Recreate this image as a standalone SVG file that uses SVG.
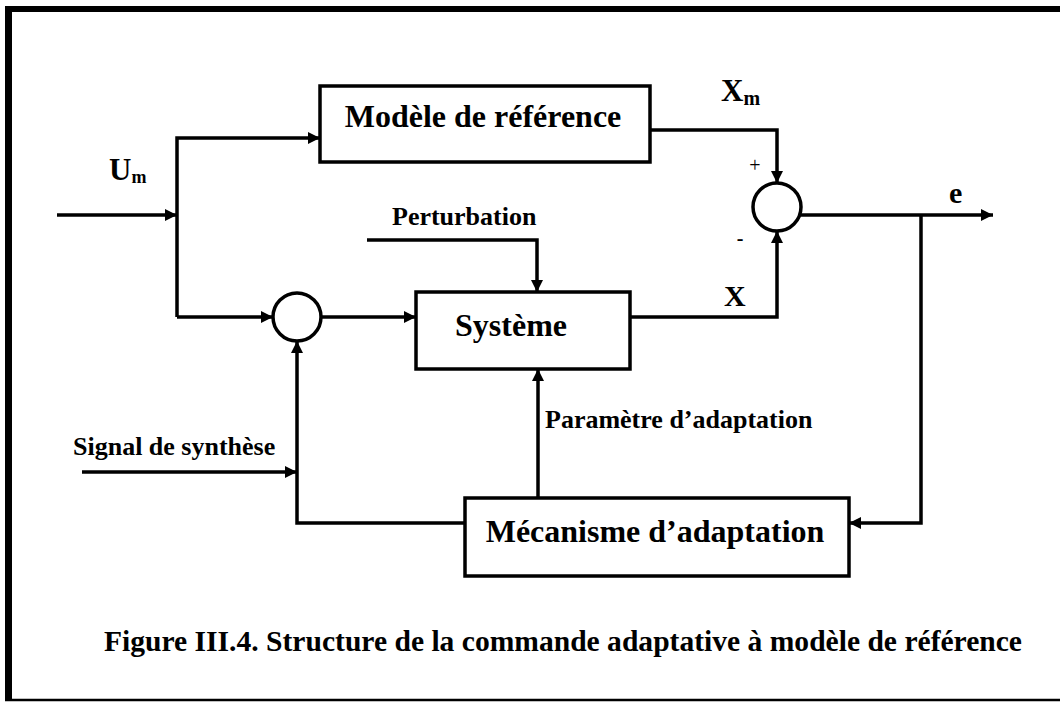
<svg xmlns="http://www.w3.org/2000/svg" width="1060" height="702" viewBox="0 0 1060 702">
<defs>
<style>
.ln{fill:none;stroke:#000;stroke-width:3.5;stroke-linejoin:miter}
.bx{fill:#fff;stroke:#000;stroke-width:3.5}
.t{font-family:"Liberation Serif","Times New Roman",serif;font-weight:bold;fill:#000}
.big{font-size:32px}
.mid{font-size:26px}
.sm{font-family:"Liberation Serif","Times New Roman",serif;font-size:20px;fill:#000}
</style>
<marker id="ar" viewBox="0 0 12 12" refX="12" refY="6" markerWidth="12" markerHeight="12" markerUnits="userSpaceOnUse" orient="auto">
<path d="M0,0 L12,6 L0,12 Z" fill="#000"/>
</marker>
</defs>
<rect x="0" y="0" width="1060" height="702" fill="#fff"/>
<g id="frame">
<line x1="5" y1="9" x2="1060" y2="9" stroke="#000" stroke-width="6"/>
<line x1="8.5" y1="6" x2="8.5" y2="701" stroke="#000" stroke-width="7"/>
<line x1="5" y1="700" x2="1060" y2="700" stroke="#000" stroke-width="2.5"/>
</g>
<g id="connectors">
<line class="ln" x1="57" y1="215" x2="177" y2="215" marker-end="url(#ar)"/>
<polyline class="ln" points="177,317 177,138 320,138" marker-end="url(#ar)"/>
<polyline class="ln" points="177,317 273,317" marker-end="url(#ar)"/>
<line class="ln" x1="321" y1="317" x2="416" y2="317" marker-end="url(#ar)"/>
<polyline class="ln" points="367,240 537,240 537,292" marker-end="url(#ar)"/>
<polyline class="ln" points="630,317 777,317 777,231" marker-end="url(#ar)"/>
<polyline class="ln" points="650,130 777,130 777,183" marker-end="url(#ar)"/>
<line class="ln" x1="801" y1="215" x2="993" y2="215" marker-end="url(#ar)"/>
<polyline class="ln" points="921,215 921,523 849,523" marker-end="url(#ar)"/>
<line class="ln" x1="538" y1="498" x2="538" y2="369" marker-end="url(#ar)"/>
<polyline class="ln" points="465,523 297,523 297,341" marker-end="url(#ar)"/>
<line class="ln" x1="82" y1="472" x2="297" y2="472" marker-end="url(#ar)"/>
</g>
<g id="modele">
<rect class="bx" x="320" y="86" width="330" height="76"/>
<text class="t big" x="483" y="127" text-anchor="middle">Modèle de référence</text>
</g>
<g id="systeme">
<rect class="bx" x="416" y="292" width="214" height="77"/>
<text class="t big" x="511" y="336" text-anchor="middle">Système</text>
</g>
<g id="mecanisme">
<rect class="bx" x="465" y="498" width="384" height="78"/>
<text class="t big" x="655" y="542" text-anchor="middle">Mécanisme d’adaptation</text>
</g>
<g id="sum1">
<circle class="bx" cx="297" cy="317" r="24"/>
</g>
<g id="sum2">
<circle class="bx" cx="777" cy="207" r="24"/>
<text class="sm" x="755" y="172" text-anchor="middle">+</text>
<text class="sm" x="740" y="245" text-anchor="middle" font-weight="bold">-</text>
</g>
<g id="labels">
<text class="t" x="109" y="180" font-size="31">U<tspan font-size="18" dy="3">m</tspan></text>
<text class="t" x="721" y="101" font-size="31">X<tspan font-size="20" dy="4">m</tspan></text>
<text class="t" x="724" y="306" font-size="30">X</text>
<text class="t" x="949" y="203" font-size="30">e</text>
<text class="t mid" x="392" y="225">Perturbation</text>
<text class="t mid" x="545" y="428">Paramètre d’adaptation</text>
<text class="t mid" x="73" y="455">Signal de synthèse</text>
</g>
<g id="caption">
<text class="t" x="104" y="651" font-size="30" textLength="918" lengthAdjust="spacingAndGlyphs">Figure III.4. Structure de la commande adaptative à modèle de référence</text>
</g>
</svg>
